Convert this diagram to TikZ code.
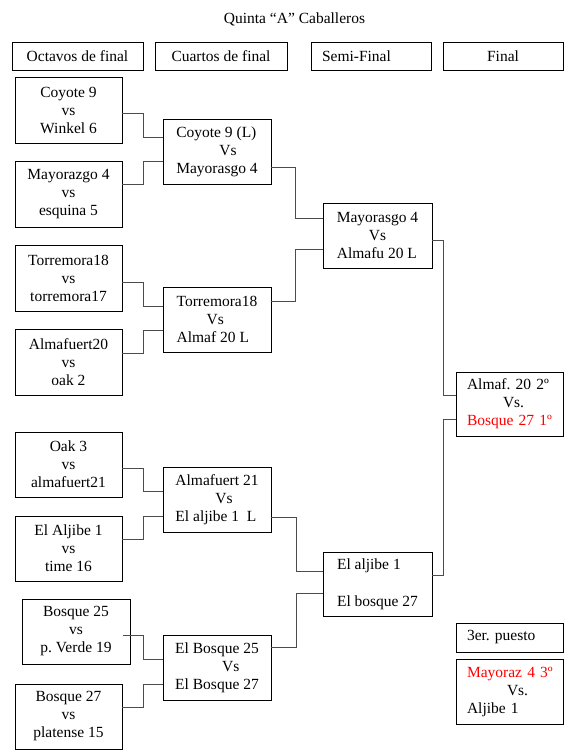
\documentclass[tikz,border=0pt]{standalone}
\usepackage{fontspec}
\setmainfont{Liberation Serif}
\frenchspacing
\usetikzlibrary{calc}
\tikzset{
  hdr/.style={draw, rectangle, minimum height=28, inner sep=0pt, line width=0.8pt},
  mbox/.style={draw, rectangle, align=center, minimum width=107, minimum height=66, inner sep=0pt, line width=0.8pt},
  qbox/.style={draw, rectangle, align=left, minimum width=108, minimum height=65, inner sep=0pt, line width=0.8pt},
  rbox/.style={draw, rectangle, align=left, text width=85, inner xsep=11, inner ysep=0pt, line width=0.8pt},
  link/.style={draw=black!70, line width=1pt},
}
\begin{document}
\begin{tikzpicture}[x=1pt,y=-1pt,font=\fontsize{15.5}{18}\selectfont]
\useasboundingbox (0,0) rectangle (587,755);
\node (title) at (294.5,19) {Quinta “A” Caballeros};
% headers
\node[hdr, minimum width=131] (hoct) at (77.5,56) {Octavos de final};
\node[hdr, minimum width=132] (hcua) at (221,56) {Cuartos de final};
\node[hdr, text width=98, inner xsep=11, align=left] (hsem) at (371,56) {Semi-Final};
\node[hdr, minimum width=120] (hfin) at (503,56) {Final};
% octavos
\node[mbox] (o1) at (68.5,110) {Coyote 9\\vs\\Winkel 6};
\node[mbox] (o2) at (68.5,194) {Mayorazgo 4\\vs\\esquina 5};
\node[mbox] (o3) at (68.5,278) {Torremora18\\vs\\torremora17};
\node[mbox] (o4) at (68.5,362) {Almafuert20\\vs\\oak 2};
\node[mbox, minimum height=65] (o5) at (68.5,464.5) {Oak 3\\vs\\almafuert21};
\node[mbox, minimum height=65] (o6) at (68.5,548.5) {El Aljibe 1\\vs\\time 16};
\node[mbox, minimum width=108, minimum height=65] (o7) at (76,631.5) {Bosque 25\\vs\\p. Verde 19};
\node[mbox, minimum height=65] (o8) at (68.5,716.5) {Bosque 27\\vs\\platense 15};
% cuartos
\node[qbox] (c1) at (217,151.5) {Coyote 9 (L)\\\hspace*{43pt}Vs\\Mayorasgo 4};
\node[qbox] (c2) at (217,319.5) {Torremora18\\\hspace*{30pt}Vs\\Almaf 20 L};
\node[qbox] (c3) at (217,499.5) {Almafuert 21\\\hspace*{40pt}Vs\\El aljibe 1~~L};
\node[qbox] (c4) at (217,668) {El Bosque 25\\\hspace*{47pt}Vs\\El Bosque 27};
% semi
\node[qbox, minimum width=109] (s1) at (377.5,235.5) {Mayorasgo 4\\\hspace*{32pt}Vs\\Almafu 20 L};
\node[qbox, minimum width=109, minimum height=64] (s2) at (377.5,584) {El aljibe 1\\[19pt]El bosque 27};
% final
\node[rbox, minimum height=64] (f1) at (509.5,404) {\mbox{Almaf. 20 2º}\\\hspace*{36pt}Vs.\\\mbox{\textcolor{red}{Bosque 27 1º}}};
\node[rbox, minimum height=29] (p3) at (509.5,637.5) {3er. puesto};
\node[rbox, minimum height=65] (p3m) at (509.5,691.5) {\mbox{\textcolor{red}{Mayoraz 4 3º}}\\\hspace*{40pt}Vs.\\Aljibe 1};
% brackets
\draw[link] ([yshift=-3]o1.east) -- ++(21,0) |- ([yshift=14.5]c1.west);
\draw[link] ([yshift=10]o2.east) -- ++(21,0) |- ([yshift=-9.5]c1.west);
\draw[link] ([yshift=-4]o3.east) -- ++(21,0) |- ([yshift=13.5]c2.west);
\draw[link] ([yshift=9]o4.east) -- ++(21,0) |- ([yshift=-10.5]c2.west);
\draw[link] ([yshift=-3.5]o5.east) -- ++(21,0) |- ([yshift=8.5]c3.west);
\draw[link] ([yshift=9.5]o6.east) -- ++(21,0) |- ([yshift=-16.5]c3.west);
\draw[link] ([xshift=-7,yshift=-3.5]o7.east) -- ++(20,0) |- ([yshift=9]c4.west);
\draw[link] ([yshift=9.5]o8.east) -- ++(21,0) |- ([yshift=-16]c4.west);
\draw[link] ([yshift=-15.5]c1.east) -- ++(24,0) |- ([yshift=17.5]s1.west);
\draw[link] ([yshift=18.5]c2.east) -- ++(24,0) |- ([yshift=-13.5]s1.west);
\draw[link] ([yshift=-17.5]c3.east) -- ++(25,0) |- ([yshift=13]s2.west);
\draw[link] ([yshift=21]c4.east) -- ++(25,0) |- ([yshift=-9]s2.west);
\draw[link] ([yshift=-4.5]s1.east) -- ++(11,0) |- ([yshift=9]f1.west);
\draw[link] ([yshift=9]s2.east) -- ++(11,0) |- ([yshift=-15]f1.west);
\end{tikzpicture}
\end{document}
